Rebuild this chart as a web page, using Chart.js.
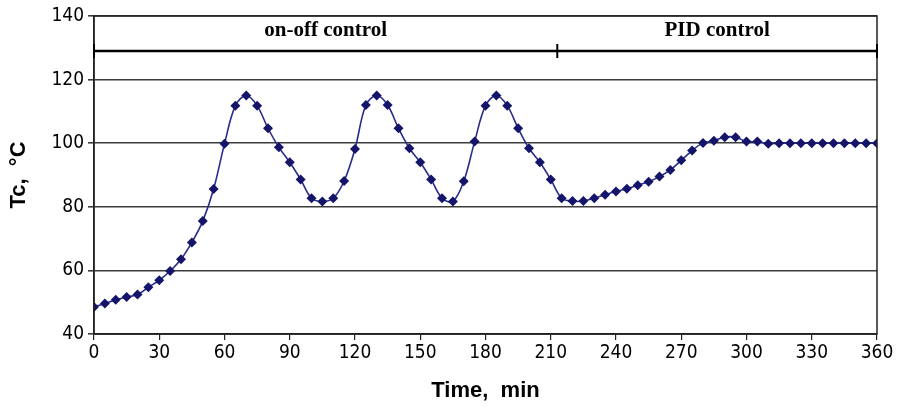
<!DOCTYPE html>
<html>
<head>
<meta charset="utf-8">
<script src="https://cdn.jsdelivr.net/npm/chart.js@4.4.1/dist/chart.umd.min.js"></script>
<style>
  html, body { margin: 0; padding: 0; background: #fff; }
  #wrap { width: 902px; height: 407px; }
</style>
</head>
<body>
<div id="wrap"><canvas id="tcChart" width="902" height="407"></canvas></div>
<script>
// time axis, one reading every 5 min
const TIMES = [
  0, 5, 10, 15, 20, 25, 30, 35, 40, 45, 50, 55, 60, 65, 70, 75, 80, 85, 90, 95,
  100, 105, 110, 115, 120, 125, 130, 135, 140, 145, 150, 155, 160, 165, 170, 175,
  180, 185, 190, 195, 200, 205, 210, 215, 220, 225, 230, 235, 240, 245, 250, 255,
  260, 265, 270, 275, 280, 285, 290, 295, 300, 305, 310, 315, 320, 325, 330, 335,
  340, 345, 350, 355, 360
];

// Tc, °C
const TC = [
  48.5, 49.6, 50.8, 51.6, 52.4, 54.7, 56.9, 59.8, 63.5, 68.8, 75.5, 85.6, 99.8, 111.8, 115, 111.8, 104.7, 98.7, 94, 88.6,
  82.7, 81.7, 82.7, 88.1, 98.2, 112, 115, 112, 104.7, 98.4, 94, 88.6, 82.7, 81.7, 88, 100.5,
  111.8, 115, 111.8, 104.7, 98.4, 94, 88.6, 82.7, 81.8, 81.8, 82.7, 83.8, 84.8, 85.7, 86.8, 87.9,
  89.5, 91.6, 94.6, 97.7, 100.1, 100.8, 101.9, 101.9, 100.5, 100.5, 99.8, 100, 100, 100, 100, 100,
  100, 100, 100, 100, 100
];

// control-mode bracket along the top
const MODE_BOUNDS = [0, 213, 360];
const MODE_LABELS = ["on-off control", "PID control"];
const BRACKET_LEVEL = 129;
const LABEL_LEVEL = 135.3;

const points = TIMES.map((t, i) => ({ x: t, y: TC[i] }));

// box round the plot + the on-off / PID bracket
const bracketPlugin = {
  id: "bracket",
  afterDatasetsDraw(chart) {
    const { ctx, chartArea, scales } = chart;
    const xs = scales.x, ys = scales.y;
    ctx.save();
    ctx.strokeStyle = "#222";
    ctx.lineWidth = 1.5;
    ctx.strokeRect(chartArea.left, chartArea.top, chartArea.right - chartArea.left, chartArea.bottom - chartArea.top);

    const yb = ys.getPixelForValue(BRACKET_LEVEL);
    ctx.lineWidth = 2.4;
    ctx.strokeStyle = "#000";
    ctx.beginPath();
    ctx.moveTo(xs.getPixelForValue(MODE_BOUNDS[0]), yb);
    ctx.lineTo(xs.getPixelForValue(MODE_BOUNDS[MODE_BOUNDS.length - 1]), yb);
    ctx.stroke();
    ctx.lineWidth = 2;
    MODE_BOUNDS.forEach(b => {
      const x = xs.getPixelForValue(b);
      ctx.beginPath();
      ctx.moveTo(x, ys.getPixelForValue(BRACKET_LEVEL + 2.2));
      ctx.lineTo(x, ys.getPixelForValue(BRACKET_LEVEL - 2.2));
      ctx.stroke();
    });

    ctx.fillStyle = "#000";
    ctx.font = "bold 21px 'Liberation Serif', 'Times New Roman', serif";
    ctx.textAlign = "center";
    ctx.textBaseline = "middle";
    MODE_LABELS.forEach((lbl, i) => {
      const mid = (MODE_BOUNDS[i] + MODE_BOUNDS[i + 1]) / 2;
      ctx.fillText(lbl, xs.getPixelForValue(mid), ys.getPixelForValue(LABEL_LEVEL));
    });
    ctx.restore();
  },
};

const tickFont = { family: "'Liberation Sans Narrow', 'DejaVu Sans Condensed', 'Liberation Sans', Arial, sans-serif", size: 19 };
const titleFont = { family: "'Liberation Sans', Arial, sans-serif", size: 22, weight: "bold" };

new Chart(document.getElementById("tcChart"), {
  type: "line",
  data: {
    datasets: [
      {
        data: points,
        borderColor: "#2b2b8c",
        backgroundColor: "#14146a",
        borderWidth: 1.6,
        pointStyle: "rectRot",
        pointRadius: 5,
        pointBorderWidth: 0,
        tension: 0.35,
      },
    ],
  },
  options: {
    responsive: false,
    animation: false,
    layout: { padding: { top: 16, right: 25, left: 0, bottom: 0 } },
    plugins: {
      legend: { display: false },
      tooltip: { enabled: false },
    },
    scales: {
      x: {
        type: "linear",
        min: 0,
        max: 360,
        ticks: { stepSize: 30, color: "#000", font: tickFont, padding: 2, maxRotation: 0 },
        grid: { drawOnChartArea: false, color: "#222", tickLength: 6, lineWidth: 1.2 },
        border: { color: "#222", width: 1.5 },
        title: {
          display: true,
          text: "Time,  min",
          color: "#000",
          font: titleFont,
          padding: { top: 0, bottom: 3 },
        },
        afterFit(s) { s.height = 73; },
      },
      y: {
        min: 40,
        max: 140,
        ticks: { stepSize: 20, color: "#000", font: tickFont, padding: 4 },
        grid: { color: "#3c3c3c", lineWidth: 1.6, tickLength: 6 },
        border: { color: "#222", width: 1.5 },
        title: {
          display: true,
          text: "Tc,  °C",
          color: "#000",
          font: titleFont,
          padding: { top: 6, bottom: 0 },
        },
        afterFit(s) { s.width = 94; },
      },
    },
  },
  plugins: [bracketPlugin],
});
</script>
</body>
</html>
